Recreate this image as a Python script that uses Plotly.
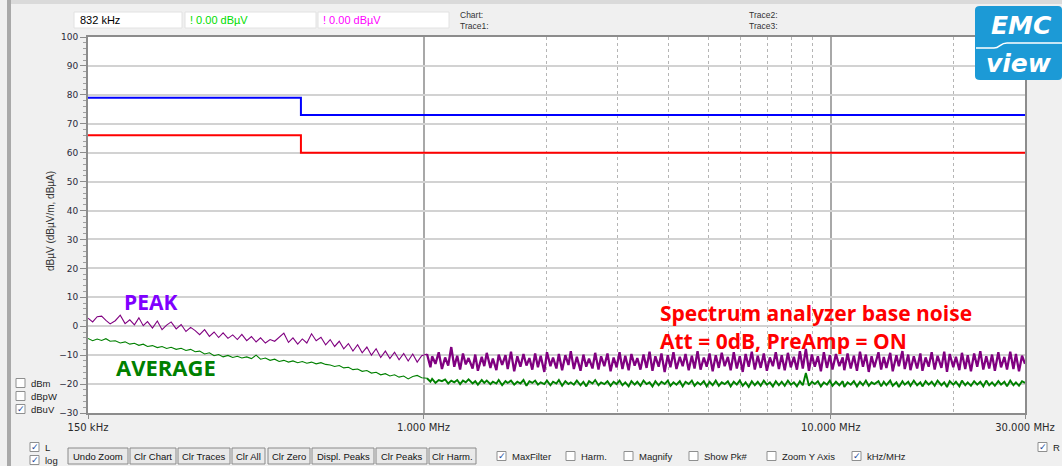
import math
import plotly.graph_objects as go

# ---------------- data ----------------
FREQ_MHZ = [
    0.150, 0.154, 0.158, 0.162, 0.166, 0.170, 0.175, 0.180, 0.185, 0.190,
    0.195, 0.200, 0.205, 0.210, 0.216, 0.222, 0.228, 0.234, 0.240, 0.247,
    0.254, 0.261, 0.268, 0.275, 0.282, 0.290, 0.298, 0.306, 0.314, 0.322,
    0.331, 0.340, 0.349, 0.358, 0.368, 0.378, 0.388, 0.398, 0.409, 0.420,
    0.431, 0.442, 0.454, 0.466, 0.478, 0.491, 0.504, 0.517, 0.531, 0.545,
    0.560, 0.575, 0.590, 0.605, 0.621, 0.637, 0.654, 0.671, 0.689, 0.707,
    0.726, 0.745, 0.765, 0.785, 0.806, 0.827, 0.849, 0.871, 0.894, 0.917,
    0.941, 0.965, 0.990,
    1.02, 1.04, 1.05, 1.07, 1.09, 1.11, 1.13, 1.15, 1.17, 1.19,
    1.21, 1.23, 1.25, 1.27, 1.29, 1.32, 1.34, 1.36, 1.39, 1.41,
    1.43, 1.46, 1.48, 1.51, 1.53, 1.56, 1.59, 1.61, 1.64, 1.67,
    1.70, 1.73, 1.76, 1.79, 1.82, 1.85, 1.88, 1.91, 1.94, 1.98,
    2.01, 2.05, 2.08, 2.12, 2.15, 2.19, 2.23, 2.27, 2.30, 2.34,
    2.38, 2.43, 2.47, 2.51, 2.55, 2.60, 2.64, 2.69, 2.73, 2.78,
    2.83, 2.88, 2.93, 2.98, 3.03, 3.08, 3.13, 3.19, 3.24, 3.30,
    3.35, 3.41, 3.47, 3.53, 3.59, 3.65, 3.71, 3.78, 3.84, 3.91,
    3.98, 4.04, 4.11, 4.18, 4.26, 4.33, 4.40, 4.48, 4.56, 4.63,
    4.71, 4.79, 4.88, 4.96, 5.04, 5.13, 5.22, 5.31, 5.40, 5.49,
    5.59, 5.68, 5.78, 5.88, 5.98, 6.08, 6.18, 6.29, 6.40, 6.51,
    6.62, 6.73, 6.85, 6.97, 7.09, 7.21, 7.33, 7.46, 7.58, 7.71,
    7.85, 7.98, 8.12, 8.26, 8.40, 8.54, 8.69, 8.84, 8.99, 9.14,
    9.30, 9.46, 9.62, 9.79, 9.95, 10.1, 10.3, 10.5, 10.7, 10.8,
    11.0, 11.2, 11.4, 11.6, 11.8, 12.0, 12.2, 12.4, 12.6, 12.8,
    13.1, 13.3, 13.5, 13.7, 14.0, 14.2, 14.5, 14.7, 15.0, 15.2,
    15.5, 15.7, 16.0, 16.3, 16.6, 16.8, 17.1, 17.4, 17.7, 18.0,
    18.3, 18.7, 19.0, 19.3, 19.6, 20.0, 20.3, 20.7, 21.0, 21.4,
    21.7, 22.1, 22.5, 22.9, 23.3, 23.7, 24.1, 24.5, 24.9, 25.3,
    25.8, 26.2, 26.7, 27.1, 27.6, 28.1, 28.5, 29.0, 29.5, 30.0,
]

PEAK_DBUV = [
    2.8, 1.5, 3.3, 3.5, 2.0, 0.8, 1.9, 3.8, 0.9, 2.2,
    0.5, 2.9, 0.2, 1.6, -0.6, 1.8, -1.2, 0.4, 1.5, -0.9,
    0.6, -1.8, -0.4, -1.5, -2.9, -1.2, -3.5, -2.0, -3.9, -2.3,
    -4.2, -3.0, -4.6, -2.8, -5.0, -3.6, -5.4, -4.0, -5.8, -4.6,
    -5.2, -3.9, -2.4, -5.6, -4.0, -6.2, -4.4, -5.8, -2.6, -5.0,
    -3.8, -6.4, -4.6, -7.0, -5.2, -7.8, -6.0, -8.6, -6.4, -9.2,
    -7.2, -10.0, -7.8, -10.8, -8.6, -11.2, -9.0, -11.6, -9.4, -12.0,
    -9.6, -12.4, -10.2,
    -9.6, -14.2, -10.4, -13.0, -9.0, -14.8, -10.8, -13.6, -7.2, -14.0,
    -10.2, -15.0, -9.4, -13.2, -11.0, -14.6, -9.8, -15.4, -10.6, -13.8,
    -9.2, -14.4, -11.2, -15.2, -9.8, -13.4, -10.0, -14.8, -8.8, -15.6,
    -10.4, -14.0, -9.6, -13.6, -11.0, -15.0, -9.4, -14.2, -10.2, -15.8,
    -9.0, -13.8, -10.8, -14.6, -9.6, -15.2, -10.0, -13.4, -8.6, -14.8,
    -10.6, -15.4, -9.8, -14.0, -11.2, -14.6, -9.2, -15.0, -10.4, -13.8,
    -9.4, -15.6, -10.8, -14.2, -9.0, -14.8, -10.2, -15.2, -9.6, -13.6,
    -11.0, -15.0, -9.8, -14.4, -8.8, -15.4, -10.4, -14.0, -9.4, -15.8,
    -10.0, -14.2, -9.0, -14.8, -10.6, -13.8, -9.6, -15.2, -10.2, -14.6,
    -8.6, -15.0, -10.8, -14.0, -9.4, -15.6, -10.0, -14.4, -9.2, -13.8,
    -10.6, -15.2, -9.0, -14.6, -10.4, -15.8, -9.6, -14.0, -8.8, -15.0,
    -10.2, -14.4, -9.4, -15.4, -10.8, -13.8, -9.0, -14.8, -10.0, -15.2,
    -9.2, -14.2, -10.6, -15.0, -8.6, -14.6, -7.8, -15.4, -9.8, -14.0,
    -10.4, -15.6, -9.0, -14.4, -10.0, -15.0, -9.6, -13.8, -10.8, -15.2,
    -9.4, -14.6, -10.2, -15.4, -8.8, -14.0, -9.8, -15.8, -10.4, -14.2,
    -9.0, -15.0, -10.6, -14.4, -9.2, -15.6, -10.0, -13.8, -8.6, -14.8,
    -9.8, -15.2, -10.4, -14.6, -9.4, -15.4, -10.8, -14.0, -9.0, -15.0,
    -10.2, -14.4, -8.8, -15.8, -9.6, -14.2, -10.6, -15.2, -9.2, -14.8,
    -10.0, -15.6, -9.4, -14.0, -8.6, -15.0, -10.4, -14.6, -9.8, -15.4,
    -9.0, -14.2, -10.6, -15.0, -8.8, -14.8, -9.6, -15.6, -10.2, -13.0,
]

AVG_DBUV = [
    -4.2, -5.0, -4.4, -4.9, -4.3, -5.2, -5.0, -5.8, -5.4, -6.2,
    -5.9, -6.6, -6.2, -7.0, -6.7, -7.4, -7.0, -7.7, -7.3, -8.0,
    -7.6, -8.4, -8.0, -8.8, -8.6, -9.6, -9.2, -10.2, -9.8, -10.6,
    -10.1, -10.8, -10.4, -11.0, -10.6, -11.2, -10.0, -11.4, -11.0, -11.8,
    -11.4, -12.2, -11.8, -12.4, -12.0, -12.6, -12.2, -12.8, -12.4, -13.0,
    -12.6, -13.2, -13.4, -13.9, -13.6, -14.4, -14.2, -15.0, -14.8, -15.6,
    -15.3, -16.2, -15.9, -16.8, -16.4, -17.2, -16.8, -17.6, -17.2, -18.2,
    -17.4, -17.0, -17.8,
    -18.0, -19.2, -18.2, -19.6, -18.6, -19.0, -18.4, -19.8, -18.8, -19.4,
    -18.6, -20.0, -18.8, -19.4, -18.4, -19.8, -19.0, -20.2, -18.6, -19.6,
    -18.8, -20.0, -19.2, -19.8, -18.6, -20.4, -19.0, -19.6, -18.8, -20.2,
    -19.2, -19.8, -18.6, -20.6, -19.0, -19.6, -18.8, -20.2, -19.4, -20.0,
    -18.8, -20.4, -19.2, -19.8, -18.6, -20.6, -19.0, -20.0, -19.4, -20.2,
    -18.8, -20.4, -19.2, -20.8, -19.0, -19.8, -18.6, -20.4, -19.4, -20.0,
    -19.0, -20.6, -19.2, -20.0, -18.8, -20.4, -19.4, -20.8, -19.0, -20.2,
    -19.2, -20.6, -18.8, -20.0, -19.4, -20.8, -19.0, -20.4, -19.2, -20.0,
    -18.8, -20.6, -19.4, -20.2, -19.0, -20.8, -19.2, -20.0, -18.8, -20.6,
    -19.4, -20.2, -19.0, -20.8, -19.2, -20.4, -18.8, -20.6, -19.4, -20.0,
    -19.0, -20.8, -19.2, -20.2, -18.8, -20.6, -19.4, -21.0, -19.0, -20.4,
    -19.2, -20.6, -18.8, -20.2, -19.4, -20.8, -19.0, -20.4, -19.2, -20.6,
    -18.8, -20.2, -19.4, -20.8, -19.0, -20.4, -16.2, -20.6, -19.2, -20.0,
    -19.0, -20.8, -19.4, -20.2, -18.8, -20.6, -19.2, -20.4, -19.0, -21.0,
    -19.4, -20.2, -19.0, -20.8, -19.2, -20.4, -18.8, -20.6, -19.4, -20.0,
    -19.0, -20.8, -19.2, -20.4, -18.8, -20.6, -19.4, -21.0, -19.0, -20.2,
    -19.2, -20.6, -18.8, -20.4, -19.4, -20.8, -19.0, -20.2, -19.2, -20.6,
    -18.8, -20.4, -19.4, -21.0, -19.0, -20.2, -19.2, -20.8, -18.8, -20.4,
    -19.4, -20.6, -19.0, -20.2, -19.2, -20.8, -18.8, -20.4, -19.4, -20.6,
    -19.0, -20.2, -19.2, -20.8, -18.8, -20.4, -19.4, -20.6, -19.0, -19.6,
]

LIMIT_FREQ_MHZ = [0.15, 0.5, 30.0]
LIMIT_QP_DBUV = [79, 73, 73]
LIMIT_AV_DBUV = [66, 60, 60]

XTICK_VALS = [0.15, 1, 10, 30]
XTICK_TEXT = ["150 kHz", "1.000 MHz", "10.000 MHz", "30.000 MHz"]
X_MINOR_GRID = [2, 3, 4, 5, 6, 7, 8, 9, 20]
YTICK_VALS = [-30, -20, -10, 0, 10, 20, 30, 40, 50, 60, 70, 80, 90, 100]

assert len(FREQ_MHZ) == len(PEAK_DBUV) == len(AVG_DBUV), (len(FREQ_MHZ), len(PEAK_DBUV), len(AVG_DBUV))

# sweep split: sparse part below 1 MHz, dense part above
SPLIT = next(i for i, f in enumerate(FREQ_MHZ) if f >= 1.0)

# ---------------- geometry helpers (pixel -> paper) ----------------
W, H = 1062, 466
ML, MR, MT, MB = 88, 37, 37, 53
PW, PH = W - ML - MR, H - MT - MB


def PX(x):
    return (x - ML) / PW


def PY(y):
    return (H - MB - y) / PH


UI = "Liberation Sans"

fig = go.Figure()
fig.add_trace(go.Scatter(x=LIMIT_FREQ_MHZ, y=LIMIT_QP_DBUV, mode="lines", line_shape="hv",
                         line=dict(color="#0000ff", width=2), hoverinfo="skip"))
fig.add_trace(go.Scatter(x=LIMIT_FREQ_MHZ, y=LIMIT_AV_DBUV, mode="lines", line_shape="hv",
                         line=dict(color="#ff0000", width=2), hoverinfo="skip"))
for vals, color, wide in [(AVG_DBUV, "#008000", 1.9), (PEAK_DBUV, "#800080", 2.3)]:
    fig.add_trace(go.Scatter(x=FREQ_MHZ[:SPLIT + 1], y=vals[:SPLIT + 1], mode="lines",
                             line=dict(color=color, width=1.1), hoverinfo="skip"))
    fig.add_trace(go.Scatter(x=FREQ_MHZ[SPLIT:], y=vals[SPLIT:], mode="lines",
                             line=dict(color=color, width=wide), hoverinfo="skip"))

shapes = []
ann = []


def rect(x0, y0, x1, y1, fill, line="rgba(0,0,0,0)", lw=1, layer="above"):
    shapes.append(dict(type="rect", xref="paper", yref="paper",
                       x0=PX(x0), x1=PX(x1), y0=PY(y1), y1=PY(y0),
                       fillcolor=fill, line=dict(color=line, width=lw), layer=layer))


def text(x, y, s, size=10, color="#000000", xanchor="left", family=UI, bold=False, italic=False, angle=0):
    ann.append(dict(xref="paper", yref="paper", x=PX(x), y=PY(y), text=s, showarrow=False,
                    xanchor=xanchor, yanchor="middle", textangle=angle,
                    font=dict(family=family, size=size, color=color,
                              weight="bold" if bold else "normal",
                              style="italic" if italic else "normal")))


def checkbox(x, y, label, checked):
    rect(x, y - 4.5, x + 9, y + 4.5, "white", "#8e8f8f", 1)
    if checked:
        text(x + 4.5, y, "✓", size=9, color="#21479b", xanchor="center", family="DejaVu Sans", bold=True)
    text(x + 13, y, label, size=9.5, color="#222222")


# window chrome
rect(0, 0, 7, H, "#f0f0f0")
rect(7, 0, 11, H, "#a9a9a9")
rect(11, 0, W, 4, "#dadada")

# top read-out boxes
rect(74, 12, 182, 28, "white", "#e2e2e2")
rect(185, 12, 316, 28, "white", "#e2e2e2")
rect(318, 12, 449, 28, "white", "#e2e2e2")
text(78, 20, "832 kHz", size=11, color="#000000")
text(188, 20, "! 0.00 dBµV", size=11, color="#00dd00")
text(321, 20, "! 0.00 dBµV", size=11, color="#ff00ff")
text(458, 15, "Chart:", size=8.5, color="#333333")
text(458, 26, "Trace1:", size=8.5, color="#333333")
text(747, 15, "Trace2:", size=8.5, color="#333333")
text(747, 26, "Trace3:", size=8.5, color="#333333")

# EMC view logo
shapes.append(dict(type="path", xref="paper", yref="paper", layer="above",
                   path=("M {a},{b} L {c},{b} Q {d},{b} {d},{e} L {d},{f} Q {d},{g} {c},{g} "
                         "L {a},{g} Q {h},{g} {h},{f} L {h},{e} Q {h},{b} {a},{b} Z").format(
                       a=PX(980), c=PX(1058), d=PX(1062), h=PX(975),
                       b=PY(6), e=PY(10), f=PY(76), g=PY(80)),
                   fillcolor="#1c9ad6", line=dict(width=0)))
shapes.append(dict(type="path", xref="paper", yref="paper", layer="above",
                   path="M {x0},{y0} L {x1},{y0} C {x2},{y0} {x2},{y1} {x3},{y1} L {x4},{y1}".format(
                       x0=PX(976), x1=PX(994), x2=PX(1000), x3=PX(1007), x4=PX(1062),
                       y0=PY(48), y1=PY(43)),
                   line=dict(color="white", width=1.5)))
text(1021, 26, "EMC", size=25, color="white", xanchor="center", family="DejaVu Sans", bold=True, italic=True)
text(1019, 63, "view", size=25, color="white", xanchor="center", family="DejaVu Sans", bold=True, italic=True)

# y axis title
text(50, 221, "dBµV (dBµV/m, dBµA)", size=10, color="#333333", xanchor="center", angle=-90)

# chart annotations
text(122, 302, "PEAK", size=21, color="#8000ff", family="Open Sans", bold=True)
text(114, 367, "AVERAGE", size=22, color="#008000", family="Open Sans", bold=True)
text(658, 313, "Spectrum analyzer base noise", size=21, color="#ff0000", family="Open Sans", bold=True)
text(658, 341, "Att = 0dB, PreAmp = ON", size=21, color="#ff0000", family="Open Sans", bold=True)

# left unit checkboxes
checkbox(16, 383, "dBm", False)
checkbox(16, 396, "dBpW", False)
checkbox(16, 409, "dBuV", True)
checkbox(30, 447, "L", True)
checkbox(30, 460, "log", True)
checkbox(1038, 447, "R", True)

# buttons
for label, x0, x1 in [("Undo Zoom", 68, 128), ("Clr Chart", 130, 176), ("Clr Traces", 178, 230),
                      ("Clr All", 232, 265), ("Clr Zero", 268, 310), ("Displ. Peaks", 312, 374),
                      ("Clr Peaks", 376, 427), ("Clr Harm.", 429, 476)]:
    rect(x0, 448, x1, 464, "#e9e9e9", "#8a8a8a", 1)
    text((x0 + x1) / 2, 456.5, label, size=9.5, color="#111111", xanchor="center")

for label, x0, ck in [("MaxFilter", 497, True), ("Harm.", 566, False), ("Magnify", 624, False),
                      ("Show Pk#", 689, False), ("Zoom Y Axis", 767, False), ("kHz/MHz", 852, True)]:
    checkbox(x0, 456, label, ck)

fig.update_layout(
    width=W, height=H,
    margin=dict(l=ML, r=MR, t=MT, b=MB, pad=0, autoexpand=False),
    paper_bgcolor="#f0f0f0", plot_bgcolor="white",
    showlegend=False, shapes=shapes, annotations=ann,
    xaxis=dict(type="log", range=[math.log10(0.15), math.log10(30)], automargin=False,
               tickmode="array", tickvals=XTICK_VALS, ticktext=XTICK_TEXT,
               showgrid=True, gridcolor="#a8a8a8", gridwidth=1.5,
               showline=True, linecolor="#8c8c8c", linewidth=2, mirror=True,
               ticks="outside", ticklen=4, tickcolor="#8c8c8c",
               tickfont=dict(family="DejaVu Sans", size=10, color="#2a2a2a"),
               minor=dict(tickmode="array", tickvals=X_MINOR_GRID, showgrid=True,
                          gridcolor="#b5b5b5", griddash="dot", gridwidth=1, ticks=""),
               zeroline=False, fixedrange=True),
    yaxis=dict(range=[-30, 100], tickmode="array", tickvals=YTICK_VALS, automargin=False,
               showgrid=True, gridcolor="#d2d2d2", gridwidth=1.5,
               showline=True, linecolor="#8c8c8c", linewidth=2, mirror=True,
               ticks="outside", ticklen=6, tickcolor="#8c8c8c",
               tickfont=dict(family="DejaVu Sans", size=9, color="#2a2a3a"),
               minor=dict(tickmode="linear", tick0=0, dtick=2, ticks="outside", ticklen=3,
                          tickcolor="#a0a0a0", showgrid=False),
               zeroline=False, fixedrange=True),
)

fig.write_html("out.html", config={"displayModeBar": False},
               post_script="document.body.style.margin='0';document.body.style.overflow='hidden';")
